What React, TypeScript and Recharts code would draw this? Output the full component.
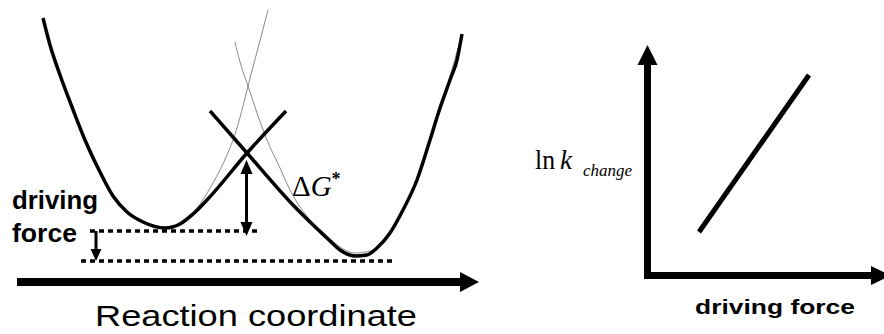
import React from 'react';
import { ComposedChart, Line, Scatter, XAxis, YAxis } from 'recharts';

const W = 884;
const H = 334;

// Diagram units: x runs left→right, y runs top→bottom (energy grows upward on screen).

// Reactant well (bold), ending on the straight rising branch of the crossing
const reactantWell = [
  { x: 43, y: 18 }, { x: 50, y: 45 }, { x: 60, y: 75 }, { x: 72, y: 107 },
  { x: 85, y: 140 }, { x: 100, y: 172 }, { x: 113, y: 196 }, { x: 127, y: 212 },
  { x: 143, y: 222 }, { x: 165, y: 228 }, { x: 180, y: 224 }, { x: 193, y: 214 },
  { x: 207, y: 200 }, { x: 247, y: 153 }, { x: 286, y: 111 },
];

// Product well (bold), starting on the straight falling branch of the crossing
const productWell = [
  { x: 210, y: 111 }, { x: 247, y: 153 }, { x: 293, y: 205 }, { x: 310, y: 222 },
  { x: 327, y: 238 }, { x: 340, y: 250 }, { x: 355, y: 256 }, { x: 367, y: 255 },
  { x: 377, y: 248 }, { x: 390, y: 233 }, { x: 403, y: 210 }, { x: 417, y: 180 },
  { x: 430, y: 140 }, { x: 440, y: 108 }, { x: 450, y: 80 }, { x: 457, y: 60 },
  { x: 462, y: 34 },
];

// Unperturbed parabolas (thin grey)
const reactantParabola = [
  { x: 190, y: 217 }, { x: 200, y: 204 }, { x: 213, y: 183 }, { x: 227, y: 155 },
  { x: 237, y: 128 }, { x: 243, y: 106 }, { x: 248, y: 86 }, { x: 257, y: 52 },
  { x: 268, y: 10 },
];
const productParabola = [
  { x: 235, y: 42 }, { x: 240, y: 62 }, { x: 248, y: 86 }, { x: 257, y: 113 },
  { x: 267, y: 140 }, { x: 280, y: 168 }, { x: 290, y: 190 }, { x: 300, y: 207 },
  { x: 312, y: 222 }, { x: 327, y: 236 }, { x: 340, y: 247 }, { x: 355, y: 253 },
  { x: 370, y: 251 }, { x: 385, y: 240 }, { x: 400, y: 216 }, { x: 415, y: 183 },
  { x: 430, y: 141 }, { x: 445, y: 93 }, { x: 458, y: 48 },
];

// Energy levels of the two minima (dotted)
const reactantLevel = [{ x: 90, y: 231 }, { x: 258, y: 231 }];
const productLevel = [{ x: 81, y: 261 }, { x: 396, y: 261 }];

// Arrows: shafts and tips
const barrierShaft = [{ x: 246.5, y: 172 }, { x: 246.5, y: 224 }];
const barrierTopTip = [{ x: 246.5, y: 160 }];
const barrierBottomTip = [{ x: 246.5, y: 236 }];
const drivingShaft = [{ x: 96, y: 231 }, { x: 96, y: 250 }];
const drivingTip = [{ x: 96, y: 261 }];
const reactionShaft = [{ x: 17, y: 282 }, { x: 462, y: 282 }];
const reactionTip = [{ x: 479, y: 282 }];

// Right panel: ln k vs driving force
const rateAxisY = [{ x: 647.5, y: 62 }, { x: 647.5, y: 279 }];
const rateAxisYTip = [{ x: 647.5, y: 45 }];
const rateAxisX = [{ x: 644, y: 275.5 }, { x: 873, y: 275.5 }];
const rateAxisXTip = [{ x: 891, y: 275.5 }];
const rateLine = [{ x: 699, y: 232 }, { x: 809, y: 75 }];

type Dir = 'up' | 'down' | 'right';

const head = (dir: Dir, len: number, half: number) => (props: any) => {
  const { cx, cy } = props;
  let pts = '';
  if (dir === 'up') pts = `${cx},${cy} ${cx - half},${cy + len} ${cx + half},${cy + len}`;
  if (dir === 'down') pts = `${cx},${cy} ${cx - half},${cy - len} ${cx + half},${cy - len}`;
  if (dir === 'right') pts = `${cx},${cy} ${cx - len},${cy - half} ${cx - len},${cy + half}`;
  return <polygon points={pts} fill="#000" />;
};

const seg = (key: string, data: any[], width: number, extra: any = {}) => (
  <Line
    key={key}
    data={data}
    dataKey="y"
    type="linear"
    stroke="#000"
    strokeWidth={width}
    dot={false}
    activeDot={false}
    isAnimationActive={false}
    legendType="none"
    {...extra}
  />
);

const tip = (key: string, data: any[], shape: any) => (
  <Scatter key={key} data={data} dataKey="y" shape={shape} isAnimationActive={false} legendType="none" />
);

const sans = "'Liberation Sans', Arial, sans-serif";
const serif = "'Liberation Serif', 'Times New Roman', serif";

export default function App() {
  return (
    <div style={{ position: 'absolute', left: 0, top: 0, width: W, height: H, background: '#fff' }}>
      <ComposedChart width={W} height={H} margin={{ top: 0, right: 0, bottom: 0, left: 0 }}>
        <XAxis type="number" dataKey="x" domain={[0, W]} hide allowDataOverflow />
        <YAxis type="number" dataKey="y" domain={[0, H]} reversed hide allowDataOverflow />

        {seg('rp', reactantParabola, 1, { type: 'monotone', stroke: '#8a8a8a' })}
        {seg('pp', productParabola, 1, { type: 'monotone', stroke: '#8a8a8a' })}
        {seg('rw', reactantWell, 3.5, { type: 'monotone' })}
        {seg('pw', productWell, 3.5, { type: 'monotone' })}

        {seg('rl', reactantLevel, 3.5, { strokeDasharray: '5 4' })}
        {seg('pl', productLevel, 3.5, { strokeDasharray: '5 4' })}

        {seg('bs', barrierShaft, 3)}
        {tip('bt', barrierTopTip, head('up', 14, 6))}
        {tip('bb', barrierBottomTip, head('down', 14, 6))}
        {seg('ds', drivingShaft, 3)}
        {tip('dt', drivingTip, head('down', 12, 5.5))}
        {seg('xs', reactionShaft, 8)}
        {tip('xt', reactionTip, head('right', 19, 10))}

        {seg('ay', rateAxisY, 7)}
        {tip('ayt', rateAxisYTip, head('up', 20, 10))}
        {seg('ax', rateAxisX, 7)}
        {tip('axt', rateAxisXTip, head('right', 20, 9.5))}
        {seg('rl2', rateLine, 5)}

        <text x={12} y={209} fontFamily={sans} fontWeight="bold" fontSize={25} textLength={86} lengthAdjust="spacingAndGlyphs">driving</text>
        <text x={12} y={242} fontFamily={sans} fontWeight="bold" fontSize={25} textLength={65} lengthAdjust="spacingAndGlyphs">force</text>
        <text x={95} y={326} fontFamily={sans} fontSize={29} textLength={322} lengthAdjust="spacingAndGlyphs">Reaction coordinate</text>

        <text x={292} y={196} fontFamily={serif} fontSize={29}>
          Δ<tspan fontStyle="italic">G</tspan>
          <tspan fontSize={18} fontWeight="bold" dy={-11}>*</tspan>
        </text>

        <text x={535} y={169} fontFamily={serif} fontSize={27} textLength={20} lengthAdjust="spacingAndGlyphs">ln</text>
        <text x={560} y={169} fontFamily={serif} fontStyle="italic" fontSize={27}>k</text>
        <text x={583} y={176} fontFamily={serif} fontStyle="italic" fontSize={17} textLength={49} lengthAdjust="spacingAndGlyphs">change</text>

        <text x={695} y={314} fontFamily={sans} fontWeight="bold" fontSize={20} textLength={160} lengthAdjust="spacingAndGlyphs">driving force</text>
      </ComposedChart>
    </div>
  );
}
